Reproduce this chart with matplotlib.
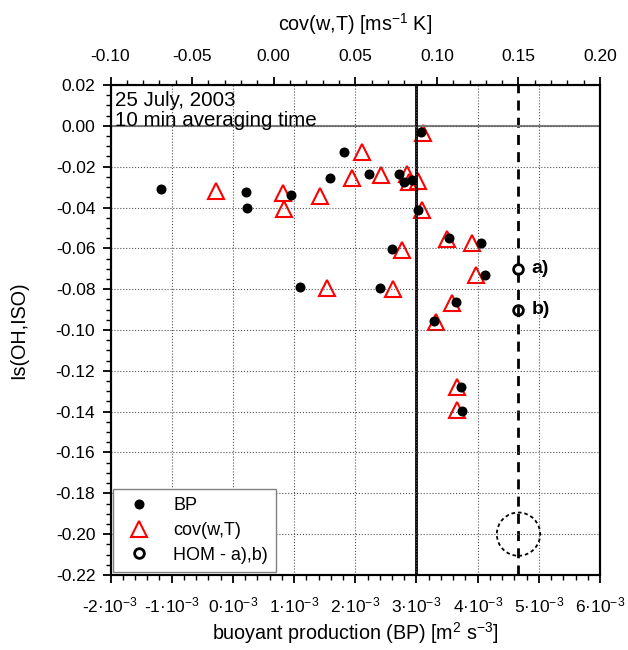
import matplotlib
matplotlib.use('Agg')
import matplotlib.pyplot as plt
from matplotlib.patches import Ellipse
from matplotlib.ticker import MultipleLocator, FixedLocator, FuncFormatter

plt.rcParams['font.family'] = ['Liberation Sans', 'DejaVu Sans']
plt.rcParams['mathtext.fontset'] = 'custom'
plt.rcParams['mathtext.rm'] = 'Liberation Sans'
plt.rcParams['mathtext.it'] = 'Liberation Sans:italic'
plt.rcParams['mathtext.bf'] = 'Liberation Sans:bold'
plt.rcParams['axes.unicode_minus'] = False

# buoyant production, in units of 1e-3 m2 s-3
bp_x = [-1.175, 0.209, 0.230, 0.949, 1.587, 1.810, 2.219, 2.714, 2.791, 2.931, 3.069,
        3.030, 3.531, 4.054, 2.605, 4.124, 1.091, 2.409, 3.645, 3.291, 3.727, 3.743]
bp_y = [-0.0311, -0.0324, -0.0402, -0.0340, -0.0254, -0.0127, -0.0236, -0.0236, -0.0275,
        -0.0265, -0.0032, -0.0412, -0.0549, -0.0572, -0.0605, -0.0729, -0.0789, -0.0796,
        -0.0863, -0.0954, -0.1278, -0.1397]

# cov(w,T) in m s-1 K
cov_x = [-0.0355, 0.0055, 0.0065, 0.0284, 0.0480, 0.0541, 0.0659, 0.0815, 0.0829, 0.0886,
         0.0917, 0.0907, 0.1064, 0.1215, 0.0784, 0.1242, 0.0325, 0.0729, 0.1093, 0.0995,
         0.1121, 0.1121]
cov_y = [-0.0318, -0.0327, -0.0406, -0.0342, -0.0257, -0.0128, -0.0239, -0.0236, -0.0274,
         -0.0269, -0.0034, -0.0412, -0.0556, -0.0574, -0.0608, -0.0731, -0.0796, -0.0799,
         -0.0866, -0.0959, -0.1278, -0.1392]

# HOM points (on the cov axis)
hom_x = [0.15, 0.15]
hom_y = [-0.07, -0.09]
hom_labels = ['a)', 'b)']

bp_line = 3.0      # solid vertical line, 1e-3 units
hom_line = 0.15    # dashed vertical line, cov units
circle_center = (4.667, -0.20)

bottom_ticks = [-2, -1, 0, 1, 2, 3, 4, 5, 6]
bottom_labels = ['%d·10$^{-3}$' % v for v in bottom_ticks]

fig = plt.figure(figsize=(6.28, 6.5), dpi=100)
ax = fig.add_axes([0.176, 0.1154, 0.7795, 0.7538])
ax2 = ax.twiny()
ax.set_zorder(ax2.get_zorder() + 1)
ax.patch.set_visible(False)

ax.set_xlim(-2, 6)
ax.set_ylim(-0.22, 0.02)
ax2.set_xlim(-0.10, 0.20)

ax.xaxis.set_major_locator(FixedLocator(bottom_ticks))
ax.set_xticklabels(bottom_labels)
ax.xaxis.set_minor_locator(MultipleLocator(0.2))
ax.yaxis.set_major_locator(MultipleLocator(0.02))
ax.yaxis.set_minor_locator(MultipleLocator(0.005))
ax.yaxis.set_major_formatter(FuncFormatter(lambda v, p: '%.2f' % v if abs(v) > 1e-9 else '0.00'))
ax2.xaxis.set_major_locator(MultipleLocator(0.05))
ax2.xaxis.set_minor_locator(MultipleLocator(0.01))
ax2.xaxis.set_major_formatter(FuncFormatter(lambda v, p: '%.2f' % v if abs(v) > 1e-9 else '0.00'))

for a in (ax, ax2):
    for s in a.spines.values():
        s.set_linewidth(1.5)
    a.tick_params(which='major', length=6, width=1.3, labelsize=12.5, direction='out', pad=5)
    a.tick_params(which='minor', length=3.5, width=1.0, direction='out')
    a.tick_params(axis='x', which='major', pad=9)
ax.tick_params(axis='y', right=False)

ax.grid(True, which='major', linestyle=':', color='#555555', linewidth=0.8)

ax.axhline(0, color='#808080', linewidth=1.5, zorder=1)
ax.axvline(bp_line, color='black', linewidth=2.0, zorder=1)
ax2.axvline(hom_line, color='black', linewidth=2.0, dashes=(3.6, 2.6), zorder=1)

tri = ax2.plot(cov_x, cov_y, '^', markersize=11, markerfacecolor='none',
               markeredgecolor='red', markeredgewidth=1.5, linestyle='none', label='cov(w,T)')[0]
hom = ax2.plot(hom_x, hom_y, 'o', markersize=7, markerfacecolor='none',
               markeredgecolor='black', markeredgewidth=2.0, linestyle='none', label='HOM - a),b)')[0]
for x, y, t in zip(hom_x, hom_y, hom_labels):
    ax2.text(x + 0.008, y, t, fontsize=14, fontweight='bold', va='center', ha='left')

dots = ax.plot(bp_x, bp_y, 'o', markersize=6.2, color='black', linestyle='none', label='BP')[0]

ax.add_patch(Ellipse(circle_center, 0.708, 0.0212, fill=False, edgecolor='black',
                     linewidth=1.3, linestyle=(0, (2.0, 1.6)), zorder=3))

ax.text(0.009, 0.988, '25 July, 2003\n10 min averaging time', transform=ax.transAxes,
        fontsize=14.8, va='top', ha='left', linespacing=1.05)

ax.set_xlabel(r'buoyant production (BP) [m$^{2}$ s$^{-3}$]', fontsize=14.2, labelpad=3)
ax.set_ylabel('Is(OH,ISO)', fontsize=14.2, labelpad=20)
ax2.set_xlabel(r'cov(w,T) [ms$^{-1}$ K]', fontsize=14.2, labelpad=13)

leg = ax.legend([dots, tri, hom], ['BP', 'cov(w,T)', 'HOM - a),b)'], loc='lower left',
                bbox_to_anchor=(0.0045, 0.0067), borderaxespad=0, fontsize=13,
                fancybox=False, framealpha=1, edgecolor='#808080', labelspacing=0.42,
                handletextpad=0.9, borderpad=0.45, handlelength=2.0)
leg.get_frame().set_linewidth(1.0)

plt.savefig('out.png', dpi=100)
